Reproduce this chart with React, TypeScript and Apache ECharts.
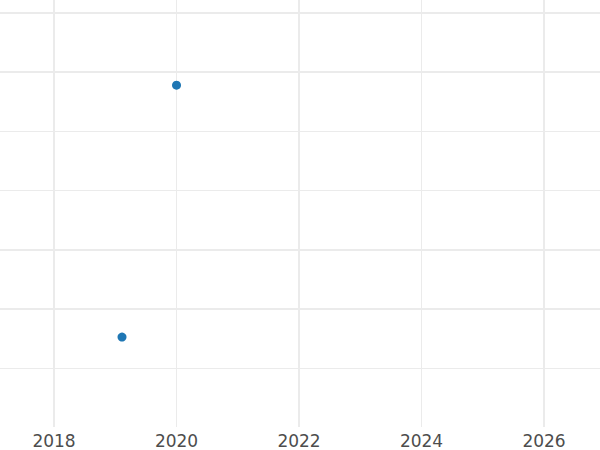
import React, { useEffect, useRef } from "react";
import * as echarts from "echarts";

const years = [2019.11, 2020.0];
const values = [0.52, 4.78];
const tickLabels = [2018, 2020, 2022, 2024, 2026];
const majorX = [2018, 2022, 2026];
const minorX = [2020, 2024];
const majorY = [1, 2, 5, 6];
const minorY = [0, 3, 4];

export default function App() {
  const ref = useRef<HTMLDivElement>(null);
  useEffect(() => {
    document.body.style.margin = "0";
    const chart = echarts.init(ref.current!, null, { renderer: "svg" });
    const gridColor = "#ebebeb";
    const ml = [
      ...majorX.map((v) => ({ xAxis: v, lineStyle: { width: 2, color: gridColor, type: "solid" } })),
      ...minorX.map((v) => ({ xAxis: v, lineStyle: { width: 1, color: gridColor, type: "solid" } })),
      ...majorY.map((v) => ({ yAxis: v, lineStyle: { width: 2, color: gridColor, type: "solid" } })),
      ...minorY.map((v) => ({ yAxis: v, lineStyle: { width: 1, color: gridColor, type: "solid" } })),
    ];
    chart.setOption({
      animation: false,
      backgroundColor: "#ffffff",
      grid: { left: 0, right: 0, top: 0, bottom: 23, containLabel: false },
      xAxis: {
        type: "value",
        min: 2017.118,
        max: 2026.914,
        axisLine: { show: false },
        axisTick: { show: false },
        splitLine: { show: false },
        axisLabel: {
          customValues: tickLabels,
          formatter: (v: number) => String(Math.round(v)),
          color: "#4d4d4d",
          fontFamily: "DejaVu Sans",
          fontSize: 17,
          margin: 5,
        },
      },
      yAxis: {
        type: "value",
        min: -1,
        max: 6.22,
        axisLine: { show: false },
        axisTick: { show: false },
        axisLabel: { show: false },
        splitLine: { show: false },
      },
      series: [
        {
          type: "line",
          data: [],
          z: 1,
          zlevel: 0,
          markLine: { silent: true, z: 1, zlevel: 0, symbol: "none", label: { show: false }, data: ml },
        },
        {
          type: "scatter",
          z: 20,
          zlevel: 1,
          symbolSize: 9,
          itemStyle: { color: "#1f77b4", opacity: 1 },
          data: years.map((y, i) => [y, values[i]]),
        },
      ],
    });
    return () => chart.dispose();
  }, []);
  return <div ref={ref} style={{ width: 600, height: 450 }} />;
}
